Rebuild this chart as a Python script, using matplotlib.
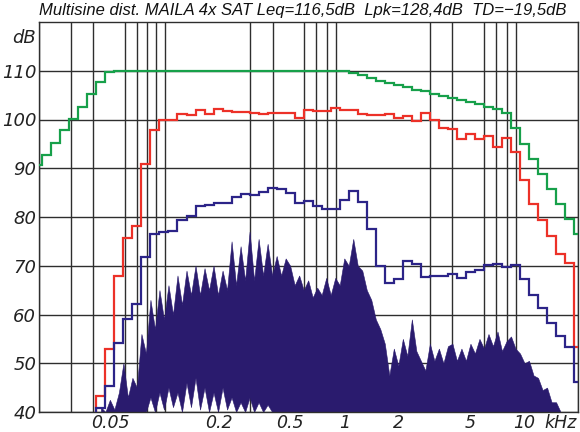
import numpy as np
import matplotlib
matplotlib.use('Agg')
import matplotlib.pyplot as plt
from matplotlib.ticker import FixedLocator, FixedFormatter, NullFormatter

# ---------------- data ----------------
title = "Multisine dist. MAILA 4x SAT Leq=116,5dB  Lpk=128,4dB  TD=\u221219,5dB"

# 1/6-octave bands, index n -> centre 2**(n/6) kHz
band_index = np.arange(-34, 27)

green_db = [90.7, 92.7, 95.2, 97.8, 100.1, 102.6, 105.2, 107.7, 109.7,
            110, 110, 110, 110, 110, 110, 110, 110, 110, 110, 110, 110, 110,
            110, 110, 110, 110, 110, 110, 110, 110, 110, 110, 110, 110,
            109.9, 109.6, 109.2, 108.6, 108.0, 107.5, 107.1, 106.7, 106.1,
            105.8, 105.3, 104.8, 104.4, 103.9, 103.5, 103.1, 102.6, 102.1,
            101.3, 98.2, 95.0, 92.0, 88.8, 85.7, 82.7, 79.6, 76.6]

red_db = [30, 30, 30, 30, 30, 30, 30,
          43.3, 52.9, 67.8, 75.6, 78.2, 90.9, 97.8, 99.9, 99.9, 101.1, 101.0,
          101.9, 101.2, 102.1, 101.7, 101.6, 101.5, 101.3, 101.2, 101.4, 101.4,
          101.4, 100.4, 101.9, 101.7, 101.8, 102.4,
          102.0, 101.9, 101.1, 100.9, 100.9, 101.1, 100.4, 100.7, 99.7, 101.3,
          99.9, 98.2, 98.0, 95.9, 97.0, 96.1, 96.6, 94.4, 96.2, 93.4, 87.5,
          82.7, 79.3, 76.1, 72.5, 70.5, 53.4]

blue_db = [30, 30, 30, 30, 30, 30, 30,
           40.8, 45.4, 54.2, 59.0, 62.1, 71.7, 76.5, 76.9, 77.2, 79.3, 80.2,
           82.3, 82.5, 82.9, 82.9, 84.2, 84.8, 84.6, 85.2, 85.9, 85.8, 85.0,
           82.9, 83.2, 82.2, 81.6, 81.7,
           83.4, 85.4, 83.0, 77.6, 70.0, 66.5, 67.3, 70.9, 70.3, 67.6, 67.8,
           67.8, 68.3, 67.4, 68.8, 69.2, 70.2, 70.4, 69.8, 70.1, 67.2, 64.0,
           61.3, 58.2, 55.6, 53.4, 46.1]

# distortion spectrum, 1/12-octave sampling, index k -> 2**(k/12) kHz
spec_index = np.arange(-54, 49)
spec_top = [41, 40, 42.5, 40.5, 44, 50, 43, 47, 45, 56, 52, 63, 57, 65, 59, 66,
            60, 68, 62, 69, 64, 70, 64, 69.5, 65, 70, 64, 69, 65, 75,
            66, 74, 67, 77, 67, 75.5, 68, 74.5, 68, 72, 68, 71.5, 70, 66,
            68, 65, 67, 63.5, 65.5, 64, 67.5, 64, 67.5, 66,
            71.5, 70, 75.5, 70, 69, 65, 63, 59, 57, 54, 47.5, 53, 49.5, 55, 51.5,
            59, 52.5, 50.5, 48.5, 54, 50.5, 53, 50, 53.5, 54, 50.5, 53, 50.5, 54,
            52, 55, 53, 56, 53.5, 56.5, 52.5, 54.5, 55.5, 53, 52, 50, 50.5,
            47.5, 47, 44.5, 45, 42, 42, 40]
spec_bottom = [40] * 11 + [43, 40, 44, 40.5, 45, 41, 44, 40, 46, 41, 47,
                           40.5, 45, 40, 44, 40, 45, 40.5, 43, 40, 42, 40,
                           43, 40, 42, 40, 41.5] + [40] * 65

y_ticks = [40, 50, 60, 70, 80, 90, 100, 110]
x_label_ticks = [0.05, 0.2, 0.5, 1, 2, 5, 10]
x_label_text = ["0.05", "0.2", "0.5", "1", "2", "5", "10"]
x_grid = [m * d for d in (0.01, 0.1, 1, 10) for m in range(2, 10)] + [0.1, 1, 10]

# ---------------- plot ----------------
GREEN = '#17a04a'
RED = '#ec3128'
BLUE = '#2c2488'
FILL = '#2a1b6e'
GRID = '#2e2e2e'
TEXT = '#222222'

fig = plt.figure(figsize=(5.8, 4.32), dpi=100)
ax = fig.add_axes([39 / 580, 1 - 412 / 432, (578 - 39) / 580, (412 - 22) / 432])
ax.set_xscale('log')
ax.set_xlim(0.02, 20)
ax.set_ylim(40, 120)

band_edges = 2.0 ** ((np.append(band_index, band_index[-1] + 1) - 0.5) / 6)
spec_f = 2.0 ** (spec_index / 12)

ax.fill_between(spec_f, spec_bottom, spec_top, color=FILL, lw=0.4,
                edgecolor=FILL, zorder=2)

ax.stairs(green_db, band_edges, color=GREEN, lw=1.6, baseline=None, zorder=3)
ax.stairs(red_db, band_edges, color=RED, lw=1.6, baseline=None, zorder=4)
ax.stairs(blue_db, band_edges, color=BLUE, lw=1.6, baseline=None, zorder=5)

# grid
ax.xaxis.set_major_locator(FixedLocator(x_label_ticks))
ax.xaxis.set_major_formatter(FixedFormatter(x_label_text))
ax.xaxis.set_minor_locator(FixedLocator(x_grid))
ax.xaxis.set_minor_formatter(NullFormatter())
ax.yaxis.set_major_locator(FixedLocator(y_ticks))
ax.grid(which='minor', axis='x', color=GRID, lw=1.0, zorder=1)
ax.grid(which='major', axis='y', color=GRID, lw=1.0, zorder=1)
ax.set_axisbelow(True)

for s in ax.spines.values():
    s.set_color(GRID)
    s.set_linewidth(1.0)

ax.tick_params(which='both', length=0)
ax.tick_params(axis='x', pad=1.5, labelsize=12.5)
ax.tick_params(axis='y', pad=2, labelsize=13)
for lab in ax.get_xticklabels() + ax.get_yticklabels():
    lab.set_fontstyle('italic')
    lab.set_color(TEXT)

fig.text(561 / 580, 1 - 423 / 432, "kHz", fontsize=12.5, fontstyle='italic',
         ha='center', va='center', color=TEXT)
fig.text(24 / 580, 1 - 38 / 432, "dB", fontsize=13, fontstyle='italic',
         ha='center', va='center', color=TEXT)
fig.text(303 / 580, 1 - 11 / 432, title, fontsize=12, fontstyle='italic',
         family=['Liberation Sans', 'DejaVu Sans'],
         ha='center', va='center', color='#111111')

fig.savefig('out.png', dpi=100)
